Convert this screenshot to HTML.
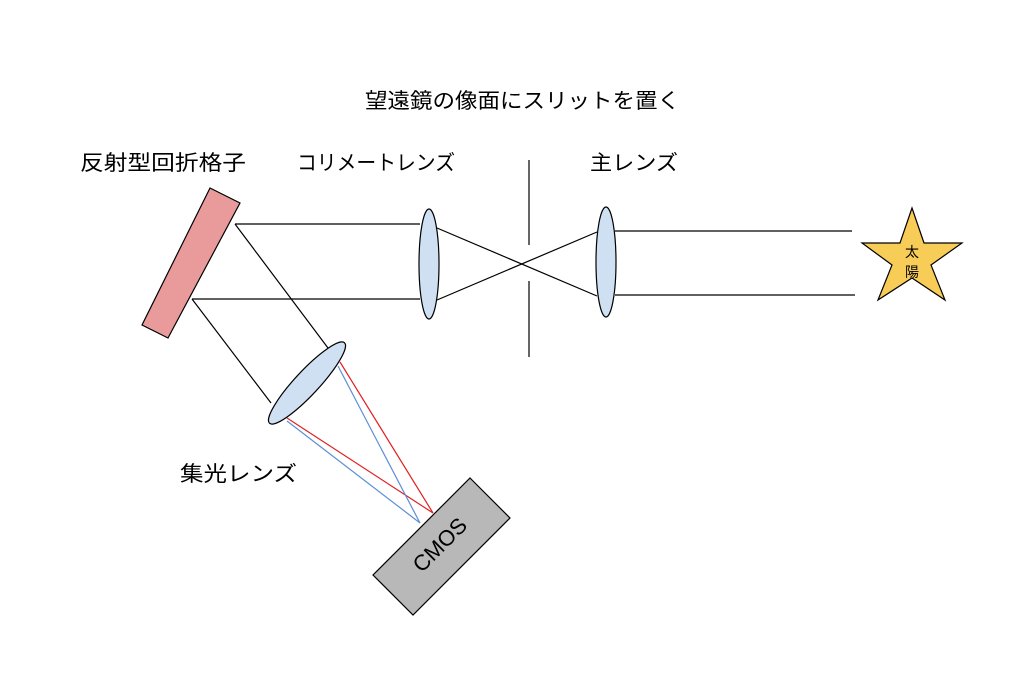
<!DOCTYPE html>
<html><head><meta charset="utf-8"><style>
html,body{margin:0;padding:0;background:#fff;}
svg{display:block;}
text{font-family:"Liberation Sans","Noto Sans CJK JP",sans-serif;fill:#000;}
</style></head><body>
<svg width="1024" height="682" viewBox="0 0 1024 682" xmlns="http://www.w3.org/2000/svg">
<rect width="1024" height="682" fill="#fff"/>
<g font-size="21">
<text x="365" y="108" textLength="315" lengthAdjust="spacingAndGlyphs">望遠鏡の像面にスリットを置く</text>
<text x="80" y="170" textLength="166" lengthAdjust="spacingAndGlyphs">反射型回折格子</text>
<text x="297" y="170" textLength="158" lengthAdjust="spacingAndGlyphs">コリメートレンズ</text>
<text x="590" y="170" textLength="88" lengthAdjust="spacingAndGlyphs">主レンズ</text>
<text x="180" y="481" textLength="117" lengthAdjust="spacingAndGlyphs">集光レンズ</text>
</g>
<g stroke="#000" stroke-width="1.2" fill="none">
<line x1="235" y1="224" x2="420" y2="224"/>
<line x1="192" y1="299" x2="420" y2="299"/>
<line x1="235" y1="224" x2="328" y2="348"/>
<line x1="192" y1="299" x2="271" y2="403"/>
<line x1="437" y1="228" x2="597" y2="296"/>
<line x1="437" y1="300" x2="597" y2="232"/>
<line x1="529" y1="160" x2="529" y2="245"/>
<line x1="529" y1="281" x2="529" y2="357"/>
<line x1="615" y1="231" x2="852" y2="231"/>
<line x1="615" y1="295" x2="855" y2="295"/>
</g>
<polygon points="210,188 240,203 168,338 142,325" fill="#e99a9a" stroke="#000" stroke-width="1.2"/>
<ellipse cx="429" cy="264" rx="10" ry="55" fill="#cfe0f2" stroke="#000" stroke-width="1.2"/>
<ellipse cx="606" cy="262" rx="10" ry="55" fill="#cfe0f2" stroke="#000" stroke-width="1.2"/>
<g stroke-width="1.2">
<line x1="340" y1="362" x2="433" y2="513" stroke="#e02020"/>
<line x1="287" y1="418" x2="433" y2="513" stroke="#e02020"/>
<line x1="338" y1="366" x2="420" y2="523" stroke="#5b8fd6"/>
<line x1="287" y1="421" x2="420" y2="523" stroke="#5b8fd6"/>
</g>
<ellipse cx="307" cy="383" rx="55" ry="12" transform="rotate(-47 307 383)" fill="#cfe0f2" stroke="#000" stroke-width="1.2"/>
<polygon points="470,478 510,518 413,615 373,575" fill="#b8b8b8" stroke="#000" stroke-width="1.2"/>
<text x="441" y="546" font-size="22" text-anchor="middle" dominant-baseline="middle" transform="rotate(-45 441 546)">CMOS</text>
<polygon points="912,208 924,243 962,243 931,265 945,300 912,278 878,300 892,265 862,243 900,243" fill="#f8cd57" stroke="#000" stroke-width="1.2"/>
<text x="912" y="257" font-size="14" text-anchor="middle">太</text>
<text x="912" y="277" font-size="14" text-anchor="middle">陽</text>
</svg>
</body></html>
